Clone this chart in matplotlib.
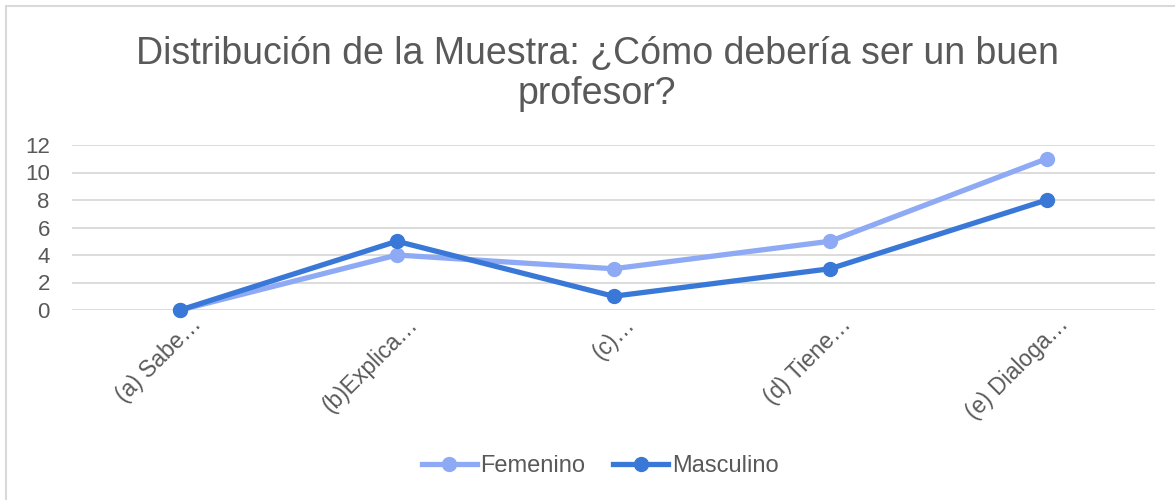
import numpy as np
import matplotlib
matplotlib.use("Agg")
import matplotlib.pyplot as plt
from matplotlib.patches import Rectangle
import matplotlib.transforms as mtransforms

# datos
categorias = ["(a) Sabe…", "(b)Explica…", "(c)…", "(d) Tiene…", "(e) Dialoga…"]
femenino = [0, 4, 3, 5, 11]
masculino = [0, 5, 1, 3, 8]
yticks = [0, 2, 4, 6, 8, 10, 12]

plt.rcParams['font.family'] = ['Liberation Sans', 'DejaVu Sans']
gris = "#595959"
c_fem = "#8FAAF5"
c_mas = "#3A78D8"

fig = plt.figure(figsize=(11.75, 5), dpi=100)
# borde del grafico
fig.patches.append(Rectangle((6/1175, -0.1), 1.2, 1 - 6/500 + 0.1,
                             transform=fig.transFigure, fill=False,
                             edgecolor="#D9D9D9", lw=1.5))

ax = fig.add_axes([72/1175, 1-310/500, (1155-72)/1175, (310-145)/500])
x = np.arange(len(categorias))
ax.plot(x, femenino, color=c_fem, lw=3.8, marker="o", ms=10, label="Femenino", clip_on=False, zorder=3)
ax.plot(x, masculino, color=c_mas, lw=3.8, marker="o", ms=10, label="Masculino", clip_on=False, zorder=4)

ax.set_xlim(-0.5, len(categorias) - 0.5)
ax.set_ylim(0, 12)
ax.set_yticks(yticks)
ax.grid(axis="y", color="#D9D9D9", lw=1.3)
ax.set_axisbelow(True)
for s in ax.spines.values():
    s.set_visible(False)
ax.tick_params(axis="y", length=0, pad=16, labelsize=16, labelcolor=gris)
ax.tick_params(axis="x", length=0, labelsize=16.5, labelcolor=gris)
ax.set_yticklabels([str(v) for v in yticks], ha="right")

ax.set_xticks(x)
ax.set_xticklabels(categorias, rotation=45, ha="right", va="center", rotation_mode="anchor")
offset = mtransforms.ScaledTranslation(18/100, -6/100, fig.dpi_scale_trans)
for lbl in ax.get_xticklabels():
    lbl.set_transform(lbl.get_transform() + offset)

fig.text(597/1175, 1-74/500, "Distribución de la Muestra: ¿Cómo debería ser un buen\nprofesor?",
         ha="center", va="center", fontsize=27, color=gris, linespacing=1.17)

leg = fig.legend(loc="center", bbox_to_anchor=(600/1175, 1-466/500), ncol=2, frameon=False,
                 fontsize=17, handlelength=2.35, columnspacing=1.15, handletextpad=0.15)
for t in leg.get_texts():
    t.set_color(gris)

fig.savefig("out.png", dpi=100)
